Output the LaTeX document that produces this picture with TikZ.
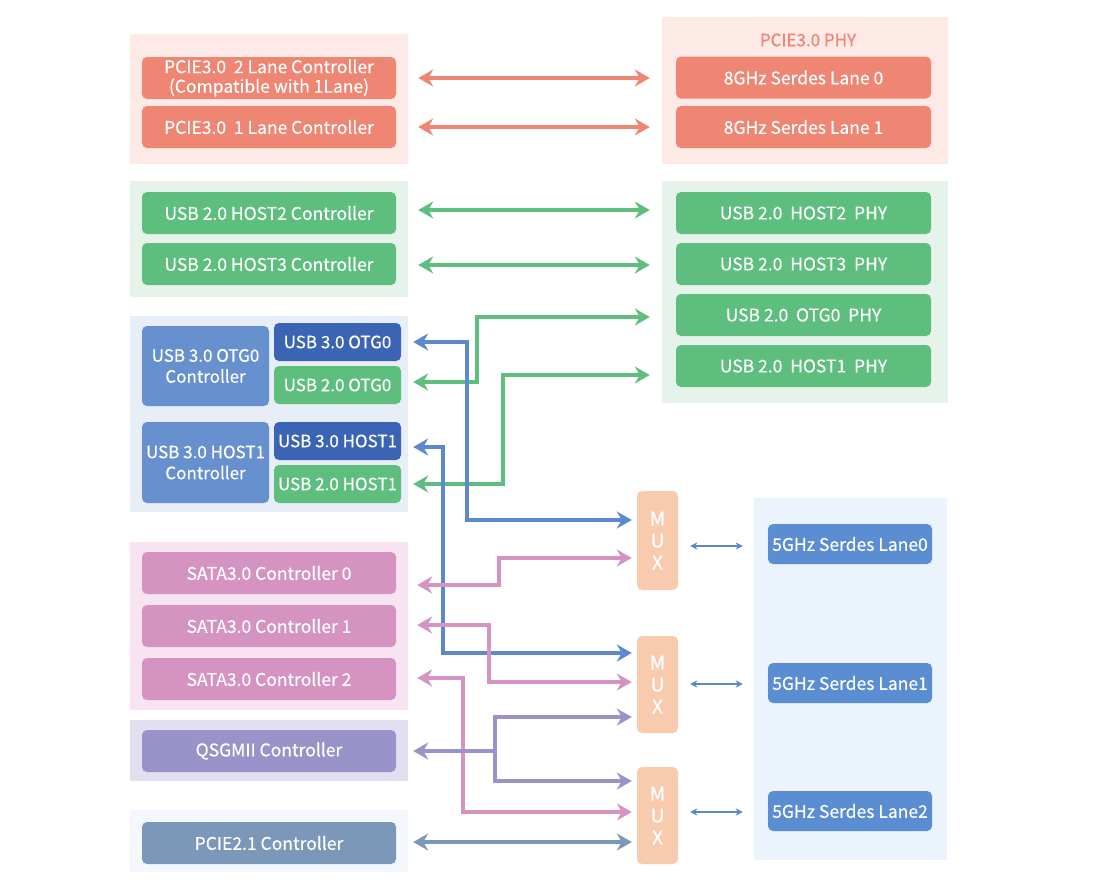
\documentclass[tikz,border=0pt]{standalone}
\usepackage{fontspec}
\setmainfont{Noto Sans CJK SC}[FakeBold=0.3]
\usetikzlibrary{arrows.meta}

\definecolor{salmon}{HTML}{EF8674}
\definecolor{salmonbg}{HTML}{FDE9E5}
\definecolor{usbgreen}{HTML}{5DBE7E}
\definecolor{greenbg}{HTML}{E5F3EA}
\definecolor{midblue}{HTML}{6690CE}
\definecolor{darkblue}{HTML}{3C64B4}
\definecolor{bluebg}{HTML}{E7EEF8}
\definecolor{sataPink}{HTML}{D593C1}
\definecolor{pinkbg}{HTML}{F8E3F0}
\definecolor{lavender}{HTML}{9894CA}
\definecolor{lavbg}{HTML}{E1DFF0}
\definecolor{slate}{HTML}{7C98B8}
\definecolor{slatebg}{HTML}{F4F7FB}
\definecolor{muxpeach}{HTML}{F9CBAE}
\definecolor{serdesblue}{HTML}{5A8DD1}
\definecolor{serdesbg}{HTML}{EBF4FD}
\definecolor{linkblue}{HTML}{5C88CF}

\begin{document}
\begin{tikzpicture}[x=1pt, y=-1pt,
    bg/.style={rectangle, fill=#1, inner sep=0pt},
    box/.style={rectangle, rounded corners=5pt, fill=#1, text=white, inner sep=0pt,
        minimum width=254pt, minimum height=42pt, align=center,
        font=\fontsize{17.5}{19.5}\selectfont},
    half/.style={box=#1, minimum width=127pt, minimum height=38pt},
    mux/.style={rectangle, rounded corners=5pt, fill=muxpeach, text=white, inner sep=0pt,
        minimum width=41pt, minimum height=98pt, align=center,
        font=\fontsize{19}{22}\selectfont},
    link/.style={line width=3.6pt, draw=#1,
        {Stealth[length=15pt,width=17pt,inset=5pt]}-{Stealth[length=15pt,width=17pt,inset=5pt]}},
    thin/.style={line width=1.2pt, draw=linkblue,
        {Stealth[length=7pt,width=7pt,inset=2pt]}-{Stealth[length=7pt,width=7pt,inset=2pt]},
        shorten <=12pt, shorten >=25pt}]
    \useasboundingbox (0,0) rectangle (1098,892);

    % group backgrounds
    \node[bg=salmonbg, minimum width=278pt, minimum height=130pt] (pcieL) at (269,99) {};
    \node[bg=salmonbg, minimum width=286pt, minimum height=147pt] (pcieR) at (805,90.5) {};
    \node[bg=greenbg, minimum width=278pt, minimum height=116pt] (usb2L) at (269,239) {};
    \node[bg=greenbg, minimum width=286pt, minimum height=222pt] (usb2R) at (805,292) {};
    \node[bg=bluebg, minimum width=278pt, minimum height=196pt] (usb3L) at (269,414) {};
    \node[bg=pinkbg, minimum width=278pt, minimum height=168pt] (sataL) at (269,626) {};
    \node[bg=lavbg, minimum width=278pt, minimum height=61pt] (qsgL) at (269,750.5) {};
    \node[bg=slatebg, minimum width=278pt, minimum height=62pt] (pcie2L) at (269,841) {};
    \node[bg=serdesbg, minimum width=193pt, minimum height=362pt] (serdesR) at (850.5,679) {};

    % PCIE3.0
    \node[box=salmon] (pc2) at (269,78) {PCIE3.0\ \ 2 Lane Controller\\(Compatible with 1Lane)};
    \node[box=salmon] (pc1) at (269,127) {PCIE3.0\ \ 1 Lane Controller};
    \node[text=salmon, font=\fontsize{17}{19}\selectfont] (phyT) at (808,40) {PCIE3.0 PHY};
    \node[box=salmon, minimum width=255pt] (lane0) at (803.5,77.5) {8GHz Serdes Lane 0};
    \node[box=salmon, minimum width=255pt] (lane1) at (803.5,127) {8GHz Serdes Lane 1};

    % USB 2.0
    \node[box=usbgreen] (h2c) at (269,213) {USB 2.0 HOST2 Controller};
    \node[box=usbgreen] (h3c) at (269,264) {USB 2.0 HOST3 Controller};
    \node[box=usbgreen, minimum width=255pt] (h2p) at (803.5,213) {USB 2.0\ \ HOST2\ \ PHY};
    \node[box=usbgreen, minimum width=255pt] (h3p) at (803.5,264) {USB 2.0\ \ HOST3\ \ PHY};
    \node[box=usbgreen, minimum width=255pt] (otgp) at (803.5,315) {USB 2.0\ \ OTG0\ \ PHY};
    \node[box=usbgreen, minimum width=255pt] (h1p) at (803.5,366) {USB 2.0\ \ HOST1\ \ PHY};

    % USB 3.0
    \node[half=midblue, minimum height=80pt, font=\fontsize{17}{21}\selectfont] (otgc) at (205.5,366) {USB 3.0 OTG0\\Controller};
    \node[half=darkblue, font=\fontsize{17}{19}\selectfont] (u3otg) at (337.5,342) {USB 3.0 OTG0};
    \node[half=usbgreen, font=\fontsize{17}{19}\selectfont] (u2otg) at (337.5,385) {USB 2.0 OTG0};
    \node[half=midblue, minimum height=81pt, font=\fontsize{17}{21}\selectfont] (h1c) at (205.5,462.5) {USB 3.0 HOST1\\Controller};
    \node[half=darkblue, font=\fontsize{17}{19}\selectfont] (u3h1) at (337.5,441) {USB 3.0 HOST1};
    \node[half=usbgreen, font=\fontsize{17}{19}\selectfont] (u2h1) at (337.5,484) {USB 2.0 HOST1};

    % SATA, QSGMII, PCIE2.1
    \node[box=sataPink] (sata0) at (269,573) {SATA3.0 Controller 0};
    \node[box=sataPink] (sata1) at (269,626) {SATA3.0 Controller 1};
    \node[box=sataPink] (sata2) at (269,679) {SATA3.0 Controller 2};
    \node[box=lavender] (qsg) at (269,751) {QSGMII Controller};
    \node[box=slate] (pcie21) at (269,843) {PCIE2.1 Controller};

    % MUX and 5GHz lanes
    \node[mux, minimum height=99pt] (mux1) at (657.5,540.5) {M\\U\\X};
    \node[mux, minimum height=97pt] (mux2) at (657.5,684.5) {M\\U\\X};
    \node[mux, minimum height=97pt] (mux3) at (657.5,815.5) {M\\U\\X};
    \node[box=serdesblue, minimum width=164pt, minimum height=40pt] (sl0) at (850,544) {5GHz Serdes Lane0};
    \node[box=serdesblue, minimum width=164pt, minimum height=40pt] (sl1) at (850,683) {5GHz Serdes Lane1};
    \node[box=serdesblue, minimum width=164pt, minimum height=40pt] (sl2) at (850,811) {5GHz Serdes Lane2};
    \coordinate (qsgfork) at (495,751);

    % links
    \draw[link=salmon, shorten <=22pt, shorten >=26pt] (pc2.east) -- (lane0.west |- pc2.east);
    \draw[link=salmon, shorten <=22pt, shorten >=26pt] (pc1.east) -- (lane1.west |- pc1.east);
    \draw[link=usbgreen, shorten <=22pt, shorten >=26pt] (h2c.east |- 0,210) -- (h2p.west |- 0,210);
    \draw[link=usbgreen, shorten <=22pt, shorten >=26pt] (h3c.east |- 0,265) -- (h3p.west |- 0,265);
    \draw[link=usbgreen, shorten <=12pt, shorten >=26pt] (u2otg.east |- 0,382) -| (477,317) -- (otgp.west |- 0,317);
    \draw[link=usbgreen, shorten <=12pt, shorten >=26pt] (u2h1.east) -| (503,375) -- (h1p.west |- 0,375);
    \draw[link=linkblue, shorten <=12pt, shorten >=5pt] (u3otg.east) -| (467,520) -- (mux1.west |- 0,520);
    \draw[link=linkblue, shorten <=12pt, shorten >=5pt] (u3h1.east |- 0,447) -| (443,653) -- (mux2.west |- 0,653);
    \draw[link=sataPink, shorten <=21pt, shorten >=5pt] (sata0.east |- 0,585) -| (499,558) -- (mux1.west |- 0,558);
    \draw[link=sataPink, shorten <=21pt, shorten >=5pt] (sata1.east |- 0,625) -| (489,682) -- (mux2.west |- 0,682);
    \draw[link=sataPink, shorten <=21pt, shorten >=5pt] (sata2.east |- 0,678) -| (463,812) -- (mux3.west |- 0,812);
    \draw[link=lavender, shorten <=17pt, shorten >=5pt] (qsg.east |- 0,751) -| (495,717) -- (mux2.west |- 0,717);
    \draw[line width=3.6pt, draw=lavender, -{Stealth[length=15pt,width=17pt,inset=5pt]}, shorten >=5pt] (qsgfork) |- (mux3.west |- 0,781);
    \draw[link=slate, shorten <=17pt, shorten >=5pt] (pcie21.east |- 0,842) -- (mux3.west |- 0,842);
    \draw[thin] (mux1.east |- 0,546) -- (sl0.west |- 0,546);
    \draw[thin] (mux2.east |- 0,684) -- (sl1.west |- 0,684);
    \draw[thin] (mux3.east |- 0,812) -- (sl2.west |- 0,812);
\end{tikzpicture}
\end{document}
